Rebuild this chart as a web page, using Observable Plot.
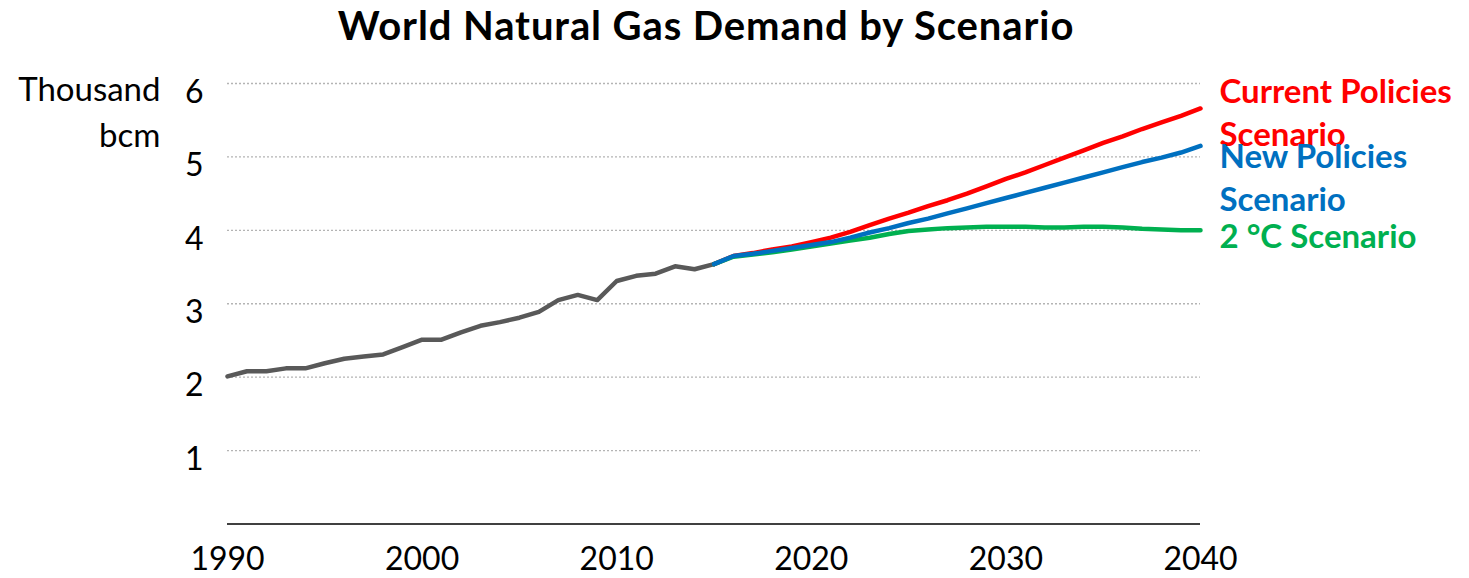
<!DOCTYPE html>
<html>
<head>
<meta charset="utf-8">
<script src="https://cdn.jsdelivr.net/npm/d3@7"></script>
<script src="https://cdn.jsdelivr.net/npm/@observablehq/plot@0.6"></script>
<style>
  body { margin: 0; background: #fff; }
  #wrap { width: 1469px; height: 578px; position: relative; overflow: hidden; }
  #title { width: 1412px; height: 50px; line-height: 50px; text-align: center; letter-spacing: 0.9px;
           font-family: Lato, "Open Sans", sans-serif; font-weight: bold; font-size: 40px; color: #000; }
</style>
</head>
<body>
<div id="wrap">
  <div id="title">World Natural Gas Demand by Scenario</div>
  <div id="chart"></div>
</div>
<script>
// Historical demand (thousand bcm)
const histYears = [1990,1991,1992,1993,1994,1995,1996,1997,1998,1999,2000,2001,2002,2003,2004,2005,2006,2007,2008,2009,2010,2011,2012,2013,2014,2015];
const histValues = [2.01,2.08,2.08,2.12,2.12,2.19,2.25,2.28,2.31,2.41,2.51,2.51,2.61,2.70,2.75,2.81,2.89,3.05,3.12,3.05,3.31,3.38,3.41,3.51,3.47,3.54];

// Projections
const projYears = [2015,2016,2017,2018,2019,2020,2021,2022,2023,2024,2025,2026,2027,2028,2029,2030,2031,2032,2033,2034,2035,2036,2037,2038,2039,2040];
const currentPolicies = [3.54,3.65,3.69,3.74,3.78,3.84,3.90,3.98,4.07,4.16,4.24,4.33,4.41,4.50,4.60,4.70,4.79,4.89,4.99,5.09,5.19,5.28,5.38,5.47,5.56,5.66];
const newPolicies     = [3.54,3.65,3.68,3.72,3.76,3.80,3.84,3.90,3.97,4.03,4.10,4.16,4.23,4.30,4.37,4.44,4.51,4.58,4.65,4.72,4.79,4.86,4.93,4.99,5.06,5.15];
const twoDegree       = [3.54,3.64,3.67,3.70,3.74,3.78,3.82,3.86,3.90,3.95,3.99,4.01,4.03,4.04,4.05,4.05,4.05,4.04,4.04,4.05,4.05,4.04,4.02,4.01,4.00,4.00];

const scenarioNames = ["Current Policies\nScenario", "2 °C Scenario", "New Policies\nScenario"];
const scenarioSeries = [currentPolicies, twoDegree, newPolicies];
const scenarioColors = ["#ff0000", "#00b050", "#0070c0"];
const labelDy = [2, 4, 29.5];

const xTicks = [1990, 2000, 2010, 2020, 2030, 2040];
const yTicks = [1, 2, 3, 4, 5, 6];
const unitLabel = "Thousand\nbcm";

const hist = histYears.map((year, i) => ({year, value: histValues[i]}));
const proj = scenarioNames.flatMap((name, s) =>
  projYears.map((year, i) => ({scenario: name, year, value: scenarioSeries[s][i]})));
const ends = scenarioNames.map((name, s) => ({
  scenario: name, year: projYears[projYears.length - 1],
  value: scenarioSeries[s][scenarioSeries[s].length - 1], dy: labelDy[s], color: scenarioColors[s]
}));

const plot = Plot.plot({
  width: 1469,
  height: 528,
  marginLeft: 227,
  marginRight: 269,
  marginTop: 33,
  marginBottom: 54.5,
  style: {fontFamily: "Lato, 'Open Sans', sans-serif", fontSize: "32px", color: "#000", background: "#fff"},
  x: {domain: [1990, 2040]},
  y: {domain: [0, 6]},
  marks: [
    Plot.ruleY(yTicks, {stroke: "#b4b4b4", strokeWidth: 1.3, strokeDasharray: "2,2"}),
    Plot.ruleY([0], {stroke: "#000", strokeWidth: 1.5}),
    Plot.axisX({ticks: xTicks, tickSize: 0, tickPadding: 23, tickFormat: d => String(d), label: null, fontSize: 32}),
    Plot.axisY({ticks: yTicks, tickSize: 0, tickPadding: 24, dy: 9, tickFormat: d => String(d), label: null, fontSize: 32}),
    Plot.text([unitLabel], {frameAnchor: "top-left", textAnchor: "end", lineAnchor: "middle", lineHeight: 1.38, dx: -67, dy: 26, fontSize: 33}),
    Plot.line(hist, {x: "year", y: "value", stroke: "#595959", strokeWidth: 4.5}),
    ...scenarioNames.map((name, s) =>
      Plot.line(proj.filter(d => d.scenario === name), {x: "year", y: "value", stroke: scenarioColors[s], strokeWidth: 4.5})),
    ...ends.map(e => Plot.text([e], {x: "year", y: "value", text: "scenario", fill: e.color, textAnchor: "start",
      lineAnchor: "middle", lineHeight: 1.32, dx: 19, dy: e.dy, fontWeight: "bold", fontSize: 33,
      style: "letter-spacing:0.5px"}))
  ]
});
document.getElementById("chart").appendChild(plot);
</script>
</body>
</html>
